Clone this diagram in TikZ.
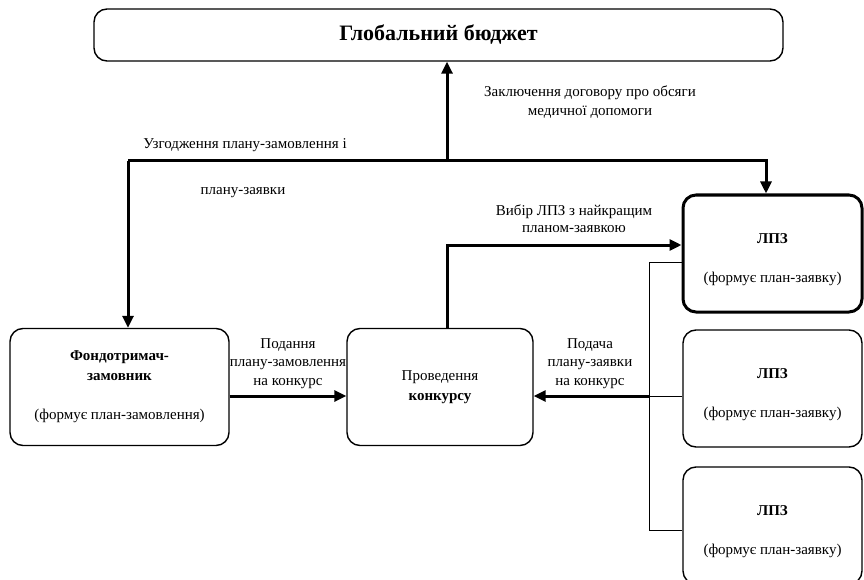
\documentclass[tikz,border=0pt]{standalone}
\usepackage{fontspec}
\setmainfont{Liberation Serif}
\usetikzlibrary{arrows.meta}

\begin{document}
\begin{tikzpicture}[x=1pt, y=-1pt,
    box/.style={draw, line width=1.4pt, rounded corners=13pt, align=center,
        font=\fontsize{15}{20}\selectfont},
    arr/.style={line width=3pt, -{Triangle[length=12pt, width=11pt]}},
    thinline/.style={line width=1pt},
    lbl/.style={align=center, font=\fontsize{15}{19}\selectfont}]

\clip (0,0) rectangle (864,580);

% Draw boxes
\node[box, minimum width=689pt, minimum height=52pt, font=\fontsize{22}{24}\selectfont\bfseries] (budget) at (438.5,35) {Глобальний бюджет};
\node[box, minimum width=219pt, minimum height=117pt] (fond) at (119.5,387) {\textbf{Фондотримач-}\\\textbf{замовник}\\[19pt](формує план-замовлення)};
\node[box, minimum width=186pt, minimum height=117pt] (contest) at (440,387) {Проведення\\\textbf{конкурсу}};
\node[box, line width=3pt, minimum width=179pt, minimum height=117pt] (lpz1) at (772.5,253.5) {\rule{0pt}{22pt}\textbf{ЛПЗ}\\[19pt](формує план-заявку)};
\node[box, minimum width=179pt, minimum height=117pt] (lpz2) at (772.5,388.5) {\rule{0pt}{22pt}\textbf{ЛПЗ}\\[19pt](формує план-заявку)};
\node[box, minimum width=179pt, minimum height=117pt] (lpz3) at (772.5,525.5) {\rule{0pt}{22pt}\textbf{ЛПЗ}\\[19pt](формує план-заявку)};

% Junction points
\coordinate (jl) at (128,161);
\coordinate (jm) at (447,161);
\coordinate (jr) at (766,161);
\coordinate (sel) at (447,245);
\coordinate (br) at (649,262);
\coordinate (ay) at (0,396);
\coordinate (low) at (0,530);

% Agreement and contract lines
\draw[arr] (jm) -- (budget.south -| jm);
\draw[arr] (jl) -- (fond.north -| jl);
\draw[arr] (jl) -- (jr) -- (lpz1.north -| jr);

% Choice of the best provider
\draw[arr] (contest.north -| sel) -- (sel) -- (sel -| lpz1.west);

% Submissions to the contest
\draw[arr] (fond.east |- ay) -- (contest.west |- ay);
\draw[thinline] (lpz1.west |- br) -- (br) |- (lpz3.west |- low);
\draw[thinline] (lpz2.west |- ay) -- (br |- ay);
\draw[arr] (br |- ay) -- (contest.east |- ay);

% Labels
\node[lbl] (lblcontract) at (590,102) {Заключення договору про обсяги\\медичної допомоги};
\node[lbl] (lblagree) at (245,145) {Узгодження плану-замовлення і};
\node[lbl] (lblagreeb) at (243,193) {плану-заявки};
\node[lbl, font=\fontsize{15}{17}\selectfont] (lblselect) at (574,218.5) {Вибір ЛПЗ з найкращим\\планом-заявкою};
\node[lbl, font=\fontsize{15}{18.5}\selectfont] (lblsubmit) at (288,363.5) {Подання\\плану-замовлення\\на конкурс};
\node[lbl, font=\fontsize{15}{18.5}\selectfont] (lblapply) at (590,363.5) {Подача\\плану-заявки\\на конкурс};

\end{tikzpicture}
\end{document}
